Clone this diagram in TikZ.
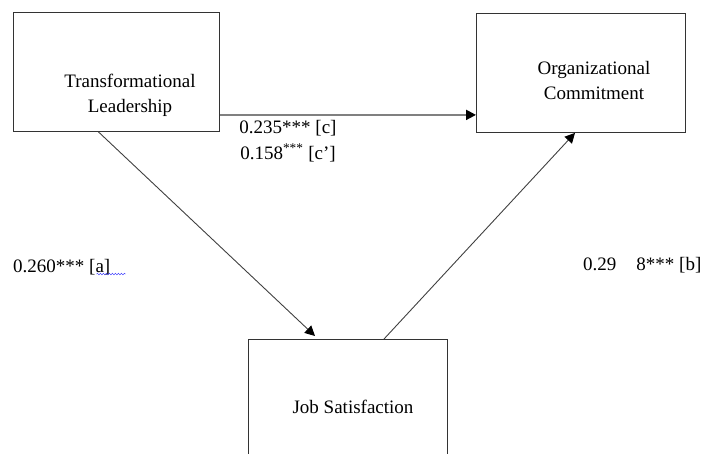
\documentclass[tikz,border=0pt]{standalone}
\usepackage{fontspec}
\setmainfont{Liberation Serif}[Ligatures=TeX]
\newfontfamily\tnrfont{Liberation Serif}[Ligatures=TeX]
\usepackage{xcolor}
\usetikzlibrary{arrows.meta, decorations.pathmorphing}

\begin{document}
\begin{tikzpicture}%
                    [x=1pt, y=-1pt,
                    box/.style={draw=black!80, line width=0.9pt, inner sep=0pt, anchor=north west},
                    txt/.style={font=\tnrfont\fontsize{19}{25}\selectfont, align=center, inner sep=0pt},
                    link/.style={color=black!75, line width=0.9pt, -{Triangle[length=10pt, width=10pt, color=black]}}]
                \useasboundingbox (0,0) rectangle (703,453);
                %% Drawing the boxes
                \node[box, minimum width=206pt, minimum height=119pt] (tl) at (13,12) {};
                \node[box, minimum width=209pt, minimum height=119pt] (oc) at (476,13) {};
                \node[box, minimum width=199pt, minimum height=130pt] (js) at (248,339) {};
                \node[txt] (tltext) at (130,95.5) {Transformational\\ Leadership};
                \node[txt] (octext) at (594,80) {Organizational\\ Commitment};
                \node[txt] (jstext) at (353,407) {Job Satisfaction};
                %%
                %% Paths between the boxes
                %%
                \draw[link, color=black!50, line width=2pt] ([yshift=17pt]tl.south east) -- ([yshift=17pt]tl.south east -| oc.west);
                \draw[link] ([xshift=-18pt]tl.south) -- ([xshift=67pt, yshift=3pt]js.north west);
                \draw[link] ([xshift=136pt]js.north west) -- ([xshift=99pt]oc.south west);

                %% Coefficients:
                \node[txt] (c) at (288,128) {0.235*** [c]};
                \node[txt] (cprime) at (288,153) {0.158\textsuperscript{***} [c']};
                \node[txt, anchor=west] (a) at (13,267) {0.260*** [a]};
                \node[txt, anchor=west] (b) at (583,265) {0.29\hspace{20pt}8*** [b]};
                \draw[color=blue!70, line width=0.5pt, decorate, decoration={snake, amplitude=0.8pt, segment length=3pt}] ([xshift=-14pt, yshift=1pt]a.south east) -- ([xshift=15pt, yshift=1pt]a.south east);
                \end{tikzpicture}
\end{document}
